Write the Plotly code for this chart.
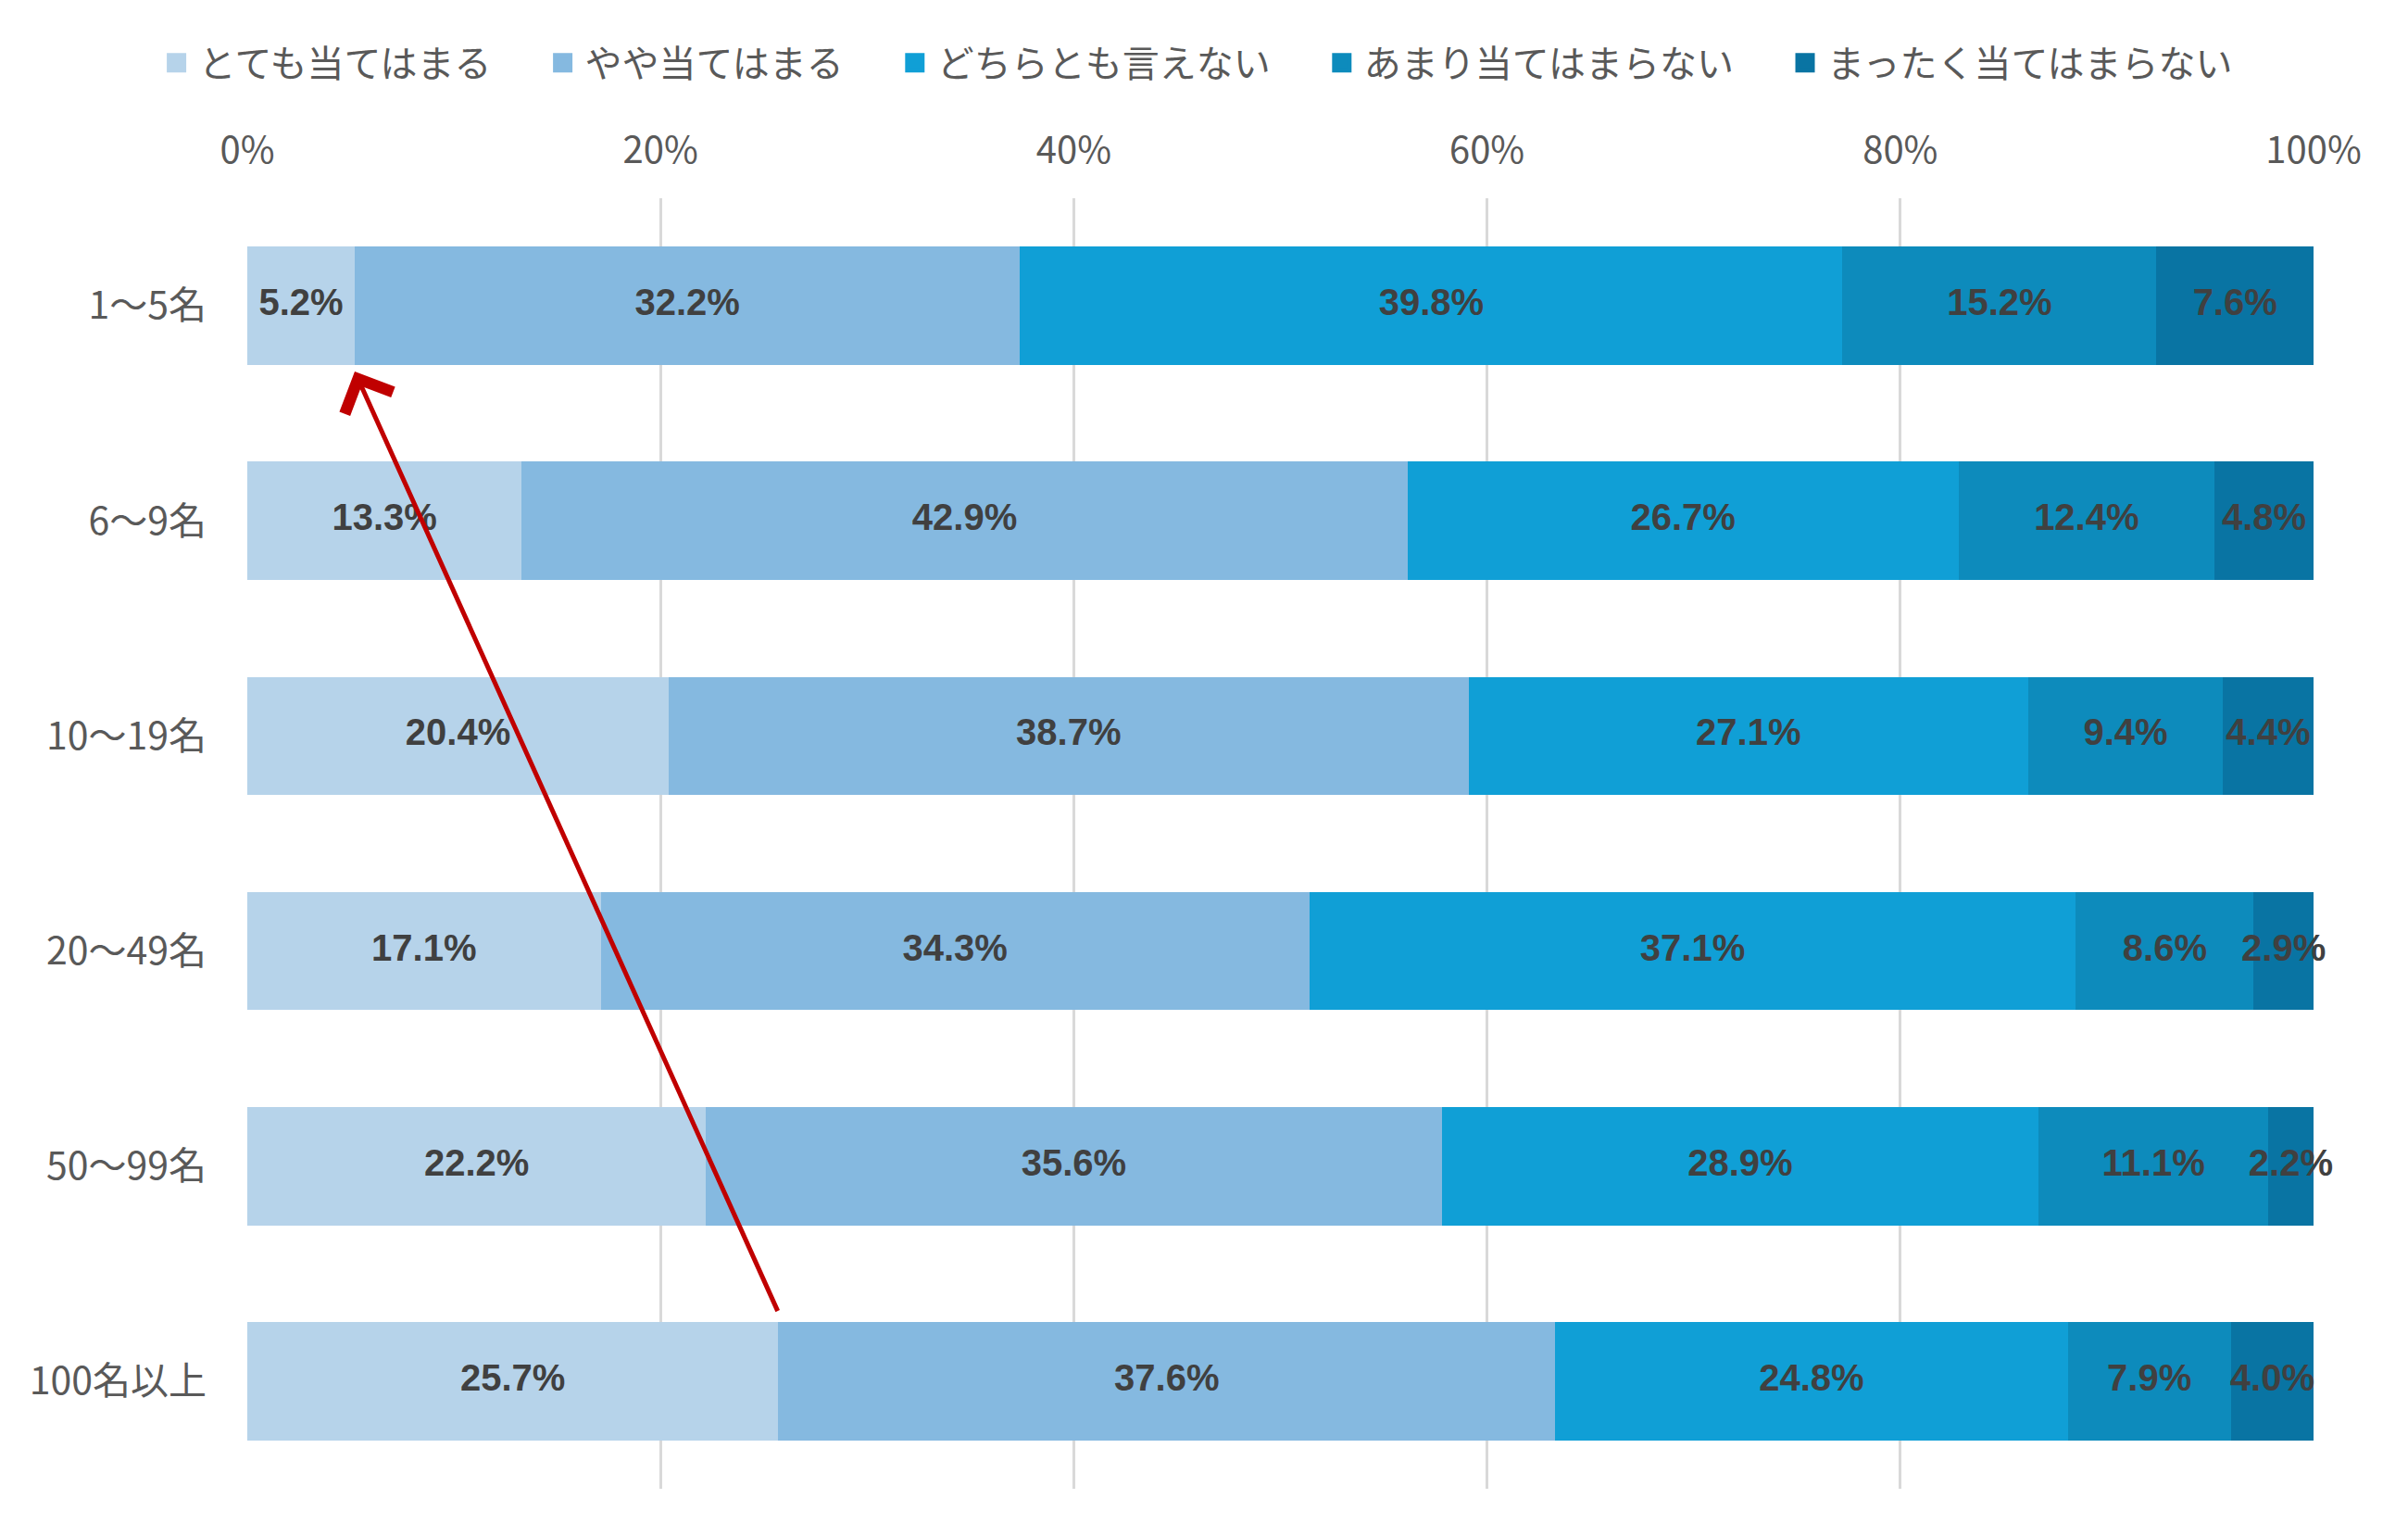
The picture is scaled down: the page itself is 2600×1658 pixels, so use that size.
import plotly.graph_objects as go

# 従業員規模別の回答割合 (%)
categories = ["1〜5名", "6〜9名", "10〜19名", "20〜49名", "50〜99名", "100名以上"]
answers = ["とても当てはまる", "やや当てはまる", "どちらとも言えない", "あまり当てはまらない", "まったく当てはまらない"]
very_true = [5.2, 13.3, 20.4, 17.1, 22.2, 25.7]
somewhat_true = [32.2, 42.9, 38.7, 34.3, 35.6, 37.6]
neutral = [39.8, 26.7, 27.1, 37.1, 28.9, 24.8]
not_really = [15.2, 12.4, 9.4, 8.6, 11.1, 7.9]
not_at_all = [7.6, 4.8, 4.4, 2.9, 2.2, 4.0]
x_ticks = [0, 20, 40, 60, 80, 100]

series = [very_true, somewhat_true, neutral, not_really, not_at_all]
colors = ["#B6D3EA", "#85B9E0", "#109FD6", "#0D8BBC", "#0974A3"]

jp_font = "Noto Sans CJK JP, Noto Sans, sans-serif"
label_font = "Liberation Sans, Arial, sans-serif"
ypos = list(range(len(categories)))
bar_w = 0.55

fig = go.Figure()

# row totals for the 100% stack (6〜9名 adds to 100.1)
totals = [sum(col) for col in zip(*series)]
left = [0.0] * len(categories)

for name, vals, c in zip(answers, series, colors):
    fig.add_trace(go.Bar(
        y=ypos, x=vals, orientation="h", width=bar_w,
        marker=dict(color=c, line=dict(width=0)),
        showlegend=False, hoverinfo="skip",
    ))
    # data labels centred on each segment (labels may overflow small segments)
    mids = [l + v / t * 50 for l, v, t in zip(left, vals, totals)]
    left = [l + v / t * 100 for l, v, t in zip(left, vals, totals)]
    fig.add_trace(go.Scatter(
        x=mids, y=ypos, mode="text", text=[f"{v:.1f}%" for v in vals],
        textposition="middle center", cliponaxis=False,
        textfont=dict(family=label_font, size=40, color="#404040", weight="bold"),
        showlegend=False, hoverinfo="skip",
    ))
    # legend entry (bigger square than bar legend symbol)
    fig.add_trace(go.Scatter(
        x=[None], y=[None], mode="markers", name=name + "\u3000\u2009",
        marker=dict(symbol="square", size=16, color=c, line=dict(width=5, color=c)),
    ))

# arrow: from the top of the 100名以上 bar to the bottom of the 1〜5名 bar
fig.add_annotation(
    x=very_true[0], y=ypos[0] + bar_w / 2 + 0.03,
    ax=very_true[-1], ay=ypos[-1] - bar_w / 2 - 0.045,
    xref="x", yref="y", axref="x", ayref="y",
    text="", showarrow=True, arrowhead=4, arrowsize=2.2, arrowwidth=5,
    arrowcolor="#C00000", standoff=0, startstandoff=0,
)

# page body has an 8px margin, so the figure is 16px smaller than the window
fig.update_layout(
    width=2584, height=1642,
    barmode="stack", barnorm="percent",
    plot_bgcolor="white", paper_bgcolor="white",
    margin=dict(l=259, r=94, t=206, b=43),
    legend=dict(orientation="h", xref="paper", yref="paper",
                x=-0.045, y=1.105, xanchor="left", yanchor="middle",
                itemwidth=38,
                font=dict(family=jp_font, size=40, color="#595959"),
                traceorder="normal"),
    xaxis=dict(side="top", range=[0, 100], tickvals=x_ticks,
               ticktext=[f"{v}%" for v in x_ticks],
               showgrid=True, gridcolor="#D9D9D9", gridwidth=3,
               zeroline=False, showline=False, ticks="",
               ticklabelstandoff=29,
               tickfont=dict(family=jp_font, size=40, color="#595959")),
    yaxis=dict(tickvals=ypos, ticktext=categories, range=[len(categories) - 0.5, -0.5],
               showgrid=False, zeroline=False, showline=False, ticks="",
               ticklabelstandoff=43,
               tickfont=dict(family=jp_font, size=41, color="#595959")),
)

fig.write_html("out.html")
